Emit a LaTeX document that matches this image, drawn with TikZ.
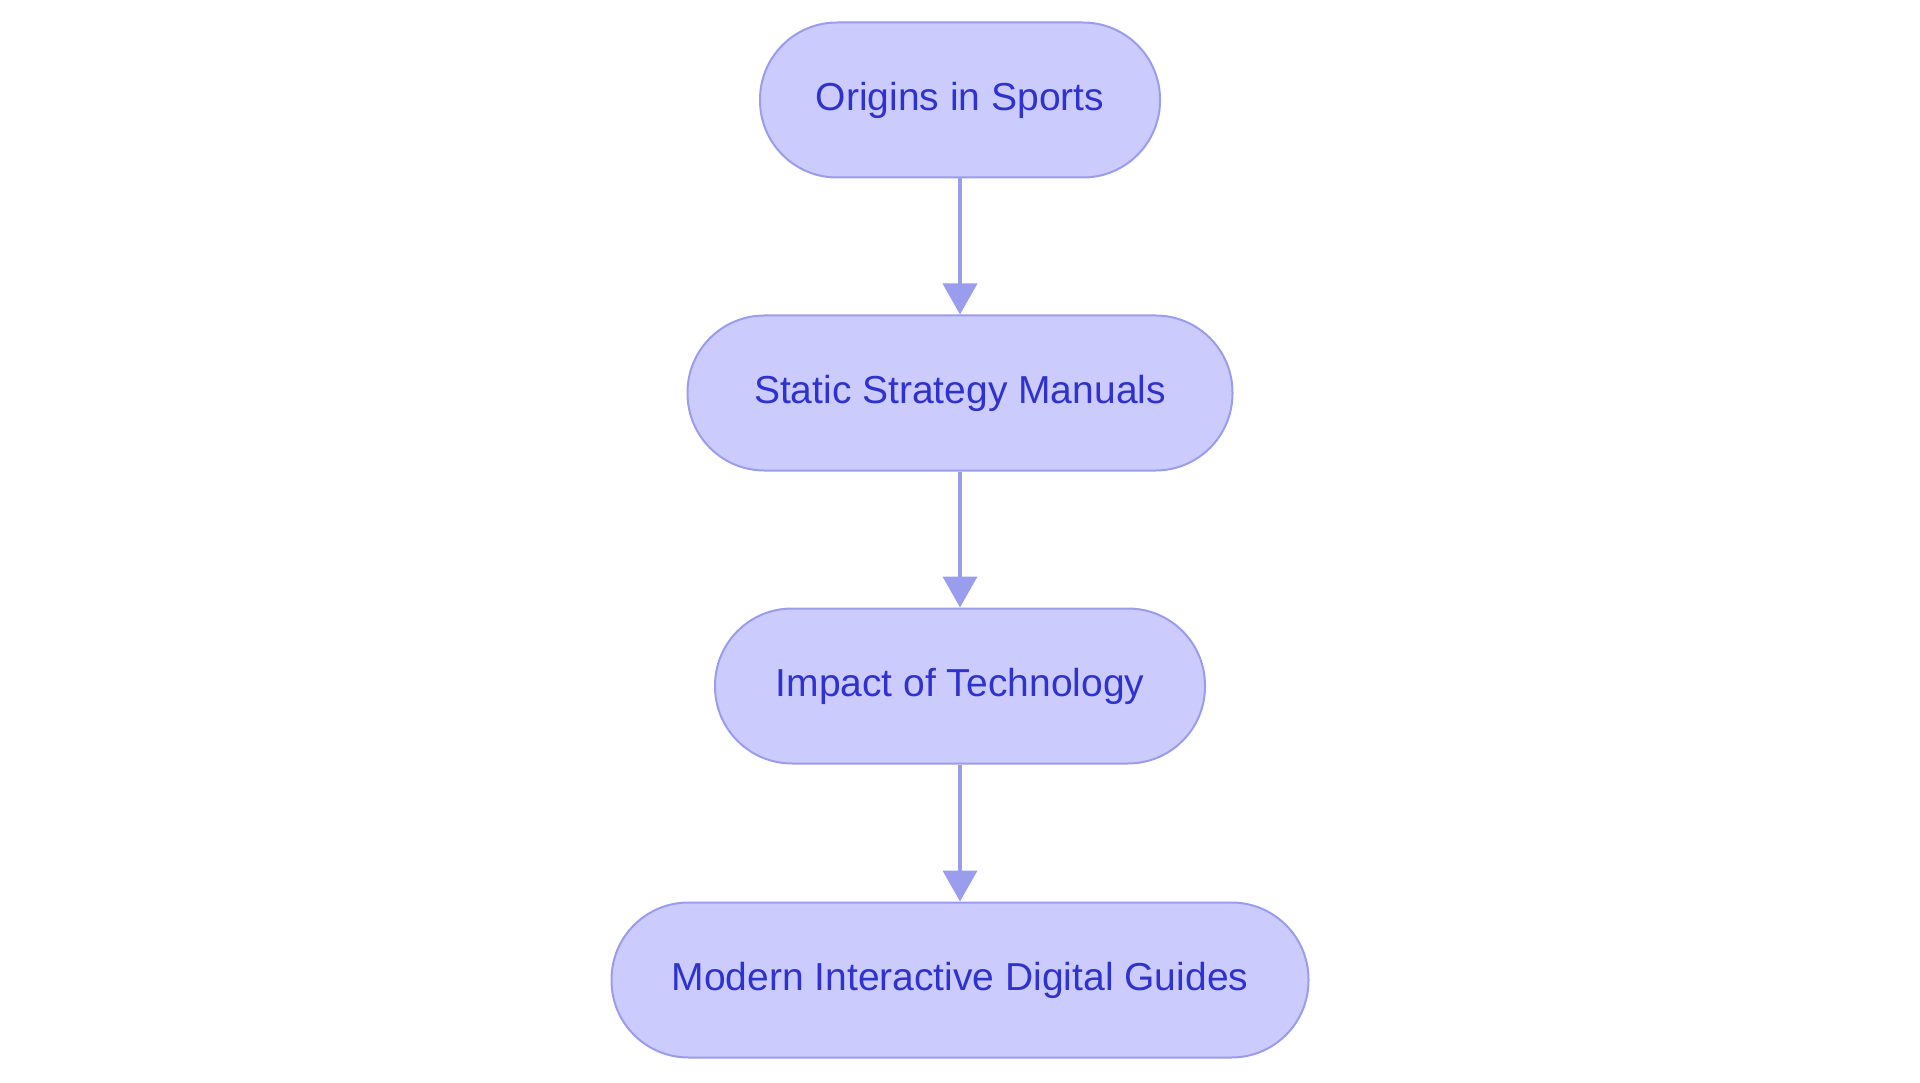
\documentclass[tikz,border=0pt]{standalone}
\usepackage{fontspec}
\setmainfont{Liberation Sans}
\usetikzlibrary{arrows.meta}
\definecolor{boxfill}{HTML}{CBCCFD}
\definecolor{boxline}{HTML}{9A9CEE}
\definecolor{txt}{HTML}{2F32CC}
\begin{document}
\begin{tikzpicture}[x=1pt,y=-1pt,
  stage/.style={draw=boxline,fill=boxfill,line width=2pt,rounded corners=77pt,
    minimum height=155pt,text=txt,font=\fontsize{39}{44}\selectfont,inner sep=0pt},
  conn/.style={draw=boxline,line width=4pt,-{Triangle[length=31pt,width=34pt]}}]
\useasboundingbox (0,0) rectangle (1920,1083);
\node[stage,minimum width=400pt] (a) at (960,100) {Origins in Sports};
\node[stage,minimum width=545pt] (b) at (960,393) {Static Strategy Manuals};
\node[stage,minimum width=490pt] (c) at (960,686) {Impact of Technology};
\node[stage,minimum width=697pt] (d) at (960,980) {Modern Interactive Digital Guides};
\draw[conn] (a) -- (b);
\draw[conn] (b) -- (c);
\draw[conn] (c) -- (d);
\end{tikzpicture}
\end{document}
